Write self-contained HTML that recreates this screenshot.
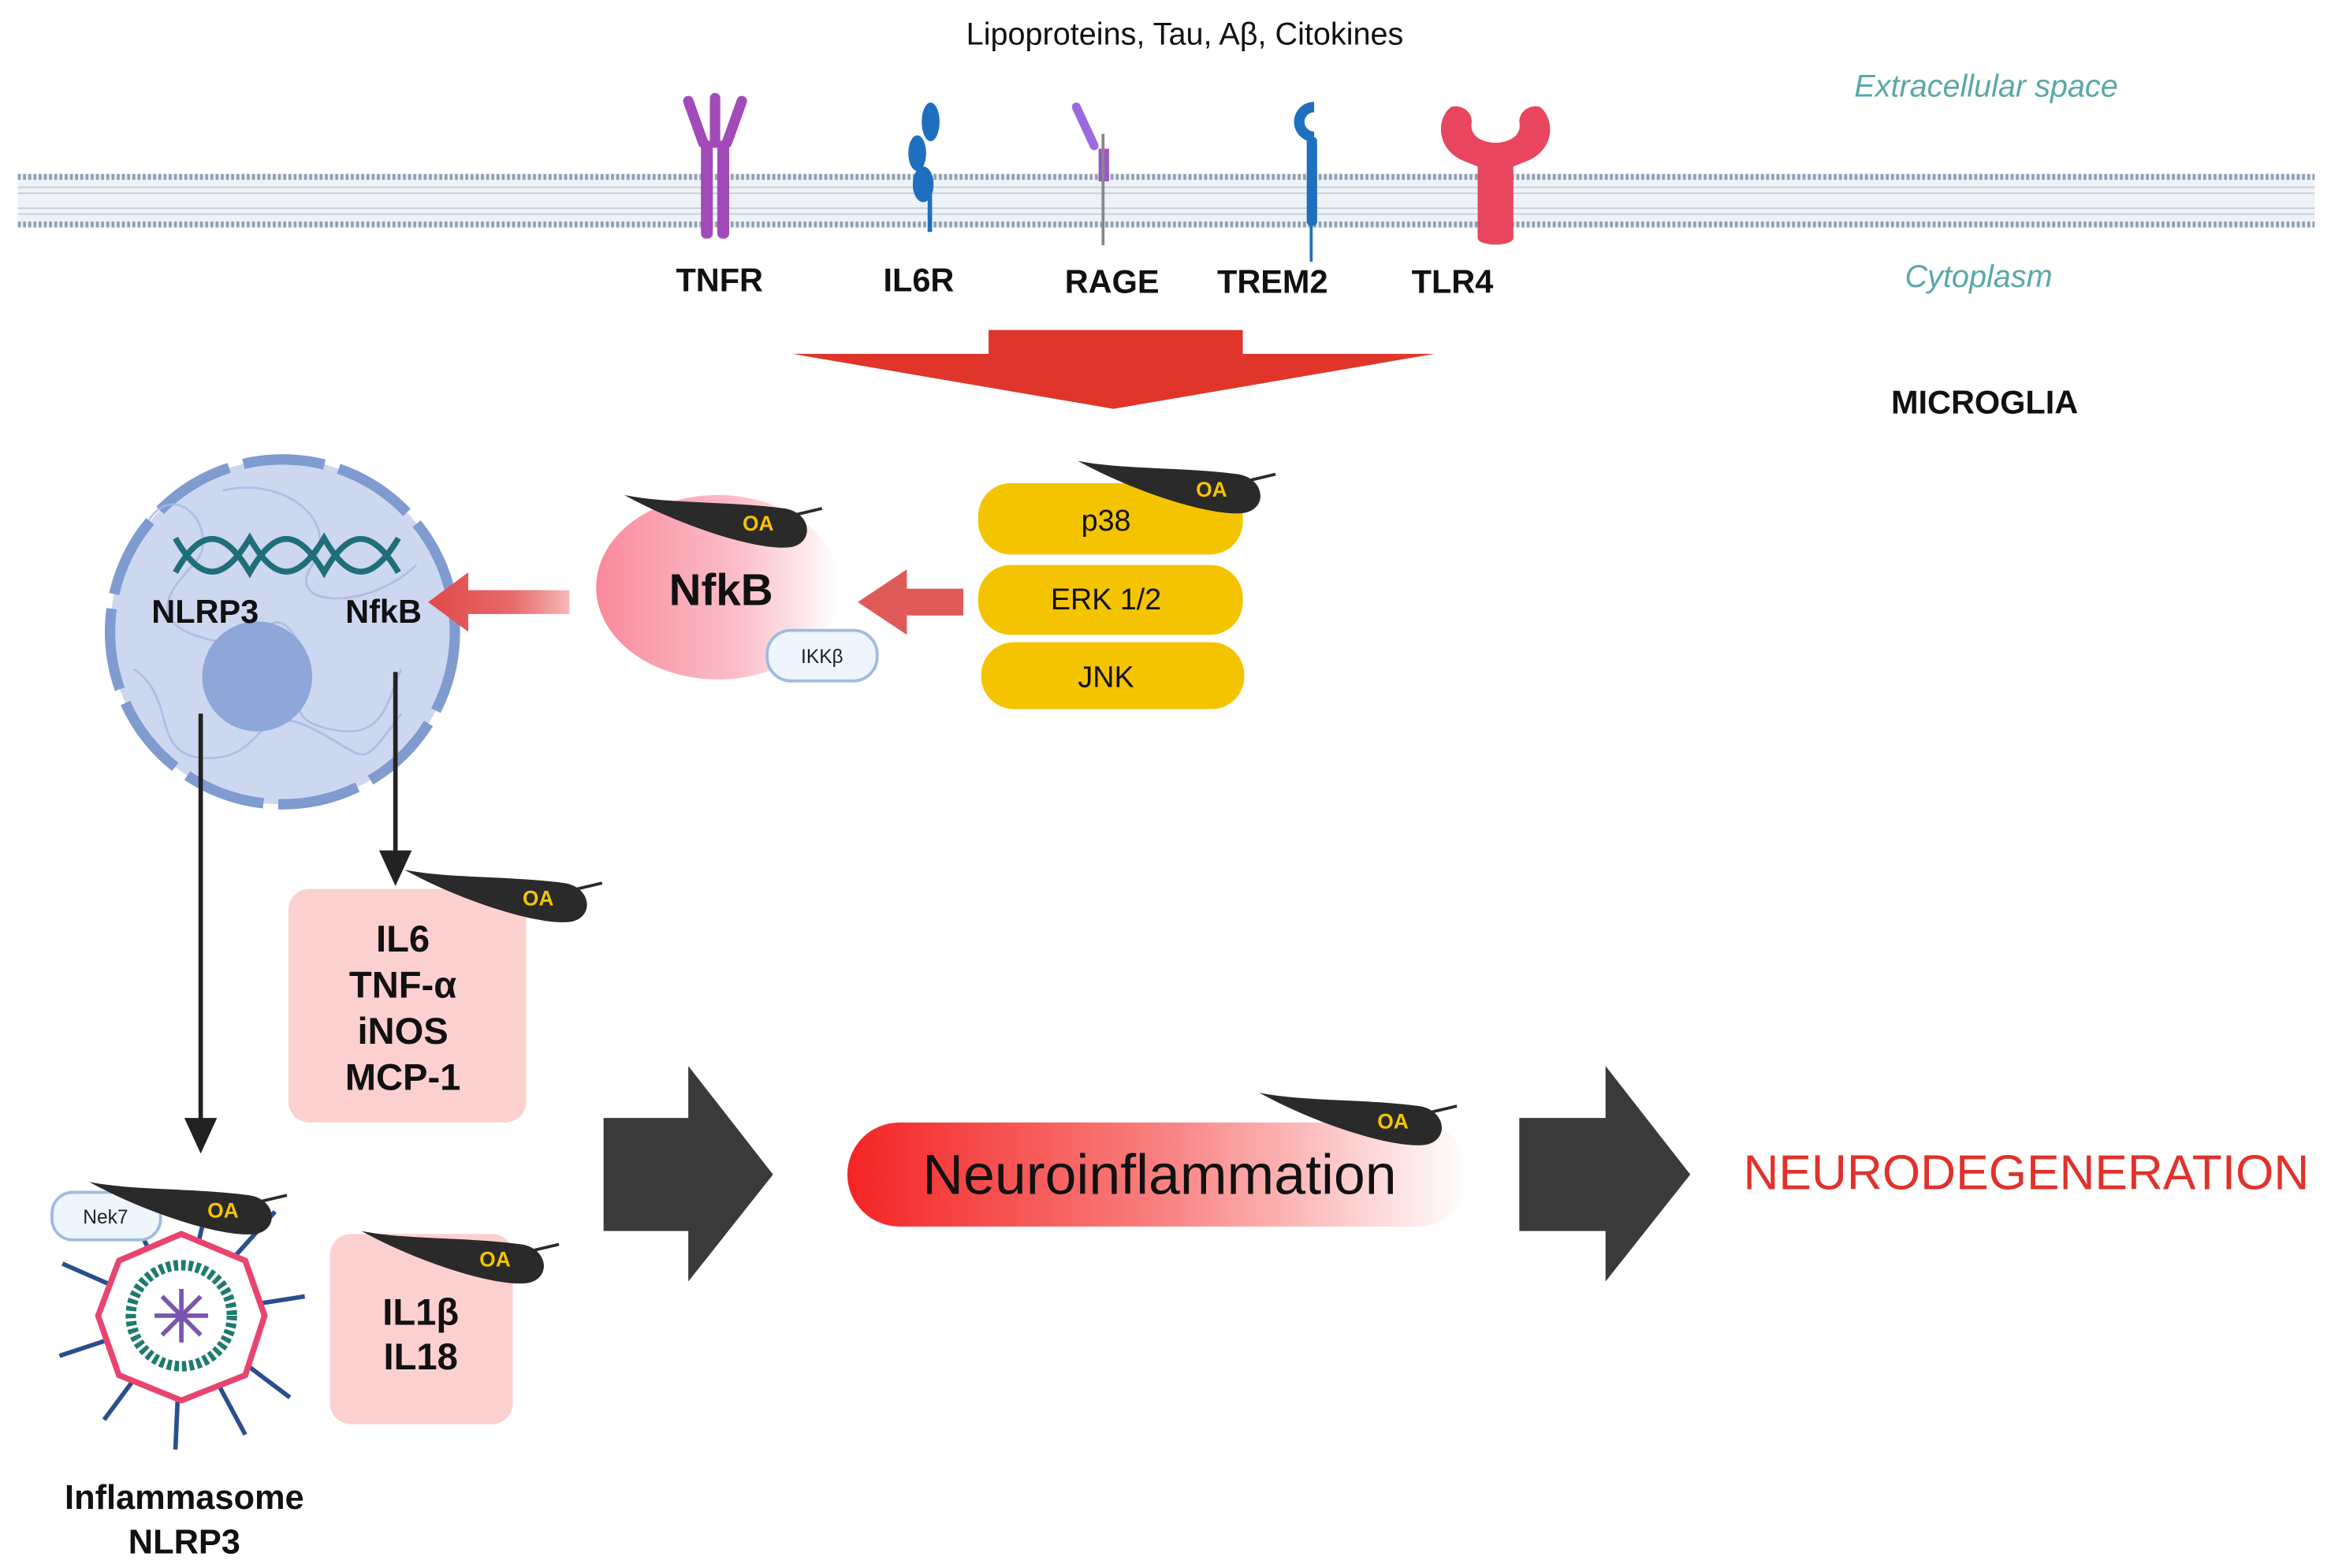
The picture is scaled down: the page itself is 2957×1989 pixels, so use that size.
<!DOCTYPE html>
<html><head><meta charset="utf-8"><style>html,body{margin:0;padding:0;background:#fff}svg{display:block}text{font-family:"Liberation Sans",sans-serif}</style></head><body>
<svg width="2957" height="1989" viewBox="0 0 1568 1054.7" preserveAspectRatio="none" xmlns="http://www.w3.org/2000/svg">
<defs>
<linearGradient id="nf" x1="0" x2="1" y1="0" y2="0"><stop offset="0" stop-color="#f98a9c"/><stop offset="0.6" stop-color="#fbc0ca"/><stop offset="1" stop-color="#ffffff"/></linearGradient>
<linearGradient id="ni" x1="0" x2="1"><stop offset="0" stop-color="#f42424"/><stop offset="0.5" stop-color="#f97f7f"/><stop offset="1" stop-color="#ffffff"/></linearGradient>
<linearGradient id="ra" x1="0" x2="1"><stop offset="0" stop-color="#e04848"/><stop offset="0.6" stop-color="#e86a6a"/><stop offset="1" stop-color="#f6b8b8"/></linearGradient>
<g id="leaf"><path d="M0,0 C30,6 70,4 108,9 C126,12 128,32 112,35 C92,38 40,22 0,0 Z" fill="#2a2a2a"/><path d="M116,13 L133,9" stroke="#2a2a2a" stroke-width="2"/><text x="90" y="24" font-size="14" font-weight="bold" fill="#f5c400" text-anchor="middle">OA</text></g>
</defs>
<text x="797" y="30" font-size="21" text-anchor="middle" fill="#111">Lipoproteins, Tau, Aβ, Citokines</text>
<text x="1336" y="65" font-size="21" font-style="italic" text-anchor="middle" fill="#5aa8a8">Extracellular space</text>
<text x="1331" y="193" font-size="21" font-style="italic" text-anchor="middle" fill="#5aa8a8">Cytoplasm</text>
<rect x="12" y="117" width="1545" height="36" fill="#eef2f7"/>
<g stroke="#8ea2b6" stroke-width="4" stroke-dasharray="2 1.5"><line x1="12" y1="119" x2="1557" y2="119"/><line x1="12" y1="151" x2="1557" y2="151"/></g>
<g stroke="#c2d0de" stroke-width="1"><line x1="12" y1="126" x2="1557" y2="126"/><line x1="12" y1="130" x2="1557" y2="130"/><line x1="12" y1="140" x2="1557" y2="140"/><line x1="12" y1="144" x2="1557" y2="144"/></g>
<g fill="#a24bb8" stroke="#a24bb8"><rect x="472" y="95" width="7" height="65" rx="3"/><rect x="483" y="95" width="7" height="65" rx="3"/><path d="M463,68 l10,28 M499,68 l-10,28 M481,66 v30" stroke-width="7" stroke-linecap="round"/></g>
<g fill="#1f6fbf"><ellipse cx="626" cy="82" rx="6" ry="13"/><ellipse cx="617" cy="103" rx="6" ry="12"/><ellipse cx="621" cy="124" rx="7" ry="12"/><rect x="624" y="128" width="3" height="28"/></g>
<g><path d="M724,72 l12,26" stroke="#9a6be0" stroke-width="6" stroke-linecap="round"/><rect x="739" y="100" width="7" height="22" fill="#9a55c8"/><rect x="741" y="90" width="2" height="75" fill="#888"/></g>
<g><path d="M884,72 a10,10 0 1 0 0,20" fill="none" stroke="#1f6fbf" stroke-width="7"/><rect x="879" y="92" width="7" height="60" rx="3" fill="#1f6fbf"/><rect x="881" y="150" width="2" height="26" fill="#1f6fbf"/></g>
<g fill="#e8455e"><path d="M976,72 C966,80 966,100 984,108 L994,112 L994,160 C994,166 1018,166 1018,160 L1018,112 L1028,108 C1046,100 1046,80 1036,72 C1030,70 1022,74 1022,82 C1024,92 1014,96 1006,96 C998,96 988,92 990,82 C990,74 982,70 976,72Z"/></g>
<g font-size="22" font-weight="bold" text-anchor="middle" fill="#111"><text x="484" y="196">TNFR</text><text x="618" y="196">IL6R</text><text x="748" y="197">RAGE</text><text x="856" y="197">TREM2</text><text x="977" y="197">TLR4</text></g>
<polygon points="533,238 665,238 665,222 836,222 836,238 965,238 749,275" fill="#e0352b"/>
<text x="1335" y="278" font-size="22" font-weight="bold" text-anchor="middle" fill="#111">MICROGLIA</text>
<circle cx="190" cy="425" r="116" fill="#cdd7f0" stroke="#7f9bd0" stroke-width="7" stroke-dasharray="55 10"/>
<g fill="none" stroke="#a8b8e0" stroke-width="1.5" opacity="0.8"><path d="M100,350 c20,-30 50,10 30,30 s-30,40 10,50 s40,-30 60,0 s-20,50 20,60 s40,-20 50,-40"/><path d="M90,450 c30,20 10,60 50,60 s30,-40 70,-20 s30,30 60,-10"/><path d="M150,330 c40,-10 80,20 60,50 s40,30 70,0"/></g>
<circle cx="173" cy="455" r="37" fill="#8ea6d8"/>
<g fill="none" stroke="#1f6f7a" stroke-width="4"><path d="M118,385 C135,355 150,355 168,385 C185,355 200,355 218,385 C235,355 250,355 268,385"/><path d="M118,362 C135,392 150,392 168,362 C185,392 200,392 218,362 C235,392 250,392 268,362"/></g>
<text x="138" y="419" font-size="22" font-weight="bold" text-anchor="middle" fill="#111">NLRP3</text>
<text x="258" y="419" font-size="22" font-weight="bold" text-anchor="middle" fill="#111">NfkB</text>
<polygon points="383,397 315,397 315,385 288,405 315,425 315,413 383,413" fill="url(#ra)"/>
<polygon points="648,396 610,396 610,383 577,405 610,427 610,414 648,414" fill="#e05a5a"/>
<ellipse cx="483" cy="395" rx="82" ry="62" fill="url(#nf)"/>
<text x="485" y="407" font-size="30" font-weight="bold" text-anchor="middle" fill="#111">NfkB</text>
<rect x="516" y="424" width="74" height="34" rx="16" fill="#eef5fc" stroke="#9fbbe0" stroke-width="2"/>
<text x="553" y="446" font-size="13" text-anchor="middle" fill="#222">IKKβ</text>
<use href="#leaf" x="420" y="333"/>
<g fill="#f5c400"><rect x="658" y="325" width="178" height="48" rx="22"/><rect x="658" y="380" width="178" height="47" rx="22"/><rect x="660" y="432" width="177" height="45" rx="22"/></g>
<g font-size="20" text-anchor="middle" fill="#111"><text x="744" y="357">p38</text><text x="744" y="410">ERK 1/2</text><text x="744" y="462">JNK</text></g>
<use href="#leaf" x="725" y="310"/>
<line x1="135" y1="480" x2="135" y2="755" stroke="#222" stroke-width="3"/>
<polygon points="124,752 146,752 135,776" fill="#222"/>
<line x1="266" y1="452" x2="266" y2="575" stroke="#222" stroke-width="3"/>
<polygon points="255,572 277,572 266,596" fill="#222"/>
<rect x="194" y="598" width="160" height="157" rx="14" fill="#fdd0d0"/>
<g font-size="25" font-weight="bold" text-anchor="middle" fill="#111"><text x="271" y="640">IL6</text><text x="271" y="671">TNF-α</text><text x="271" y="702">iNOS</text><text x="271" y="733">MCP-1</text></g>
<use href="#leaf" x="272" y="585"/>
<rect x="222" y="830" width="123" height="128" rx="14" fill="#fdd0d0"/>
<g font-size="25" font-weight="bold" text-anchor="middle" fill="#111"><text x="283" y="891">IL1β</text><text x="283" y="921">IL18</text></g>
<use href="#leaf" x="243" y="828"/>
<g stroke="#2a4f8f" stroke-width="3">
<line x1="122" y1="885" x2="40" y2="912"/><line x1="122" y1="885" x2="70" y2="955"/><line x1="122" y1="885" x2="118" y2="975"/><line x1="122" y1="885" x2="165" y2="965"/><line x1="122" y1="885" x2="195" y2="940"/><line x1="122" y1="885" x2="205" y2="872"/><line x1="122" y1="885" x2="185" y2="815"/><line x1="122" y1="885" x2="140" y2="808"/><line x1="122" y1="885" x2="90" y2="820"/><line x1="122" y1="885" x2="42" y2="850"/></g>
<polygon points="122,830 165,848 178,885 165,925 122,942 80,925 66,885 80,848" fill="#fff" stroke="#e8456e" stroke-width="4"/>
<circle cx="122" cy="885" r="34" fill="none" stroke="#1f7a70" stroke-width="7" stroke-dasharray="3 2"/>
<circle cx="122" cy="885" r="24" fill="#fff"/>
<g stroke="#7a55b0" stroke-width="3"><line x1="104" y1="885" x2="140" y2="885"/><line x1="122" y1="867" x2="122" y2="903"/><line x1="109" y1="872" x2="135" y2="898"/><line x1="135" y1="872" x2="109" y2="898"/></g>
<rect x="35" y="802" width="73" height="32" rx="14" fill="#eef5fc" stroke="#9fbbe0" stroke-width="2"/>
<text x="71" y="823" font-size="13" text-anchor="middle" fill="#222">Nek7</text>
<use href="#leaf" x="60" y="795"/>
<text x="124" y="1015" font-size="23" font-weight="bold" text-anchor="middle" fill="#111">Inflammasome</text>
<text x="124" y="1045" font-size="23" font-weight="bold" text-anchor="middle" fill="#111">NLRP3</text>
<polygon points="406,752 463,752 463,717 520,790 463,862 463,828 406,828" fill="#3a3a3a"/>
<polygon points="1022,752 1080,752 1080,717 1137,790 1080,862 1080,828 1022,828" fill="#3a3a3a"/>
<rect x="570" y="755" width="418" height="70" rx="35" fill="url(#ni)"/>
<text x="780" y="803" font-size="38" text-anchor="middle" fill="#111">Neuroinflammation</text>
<use href="#leaf" x="847" y="735"/>
<text x="1363" y="800" font-size="33" text-anchor="middle" fill="#e0322b">NEURODEGENERATION</text>
</svg>
</body></html>
